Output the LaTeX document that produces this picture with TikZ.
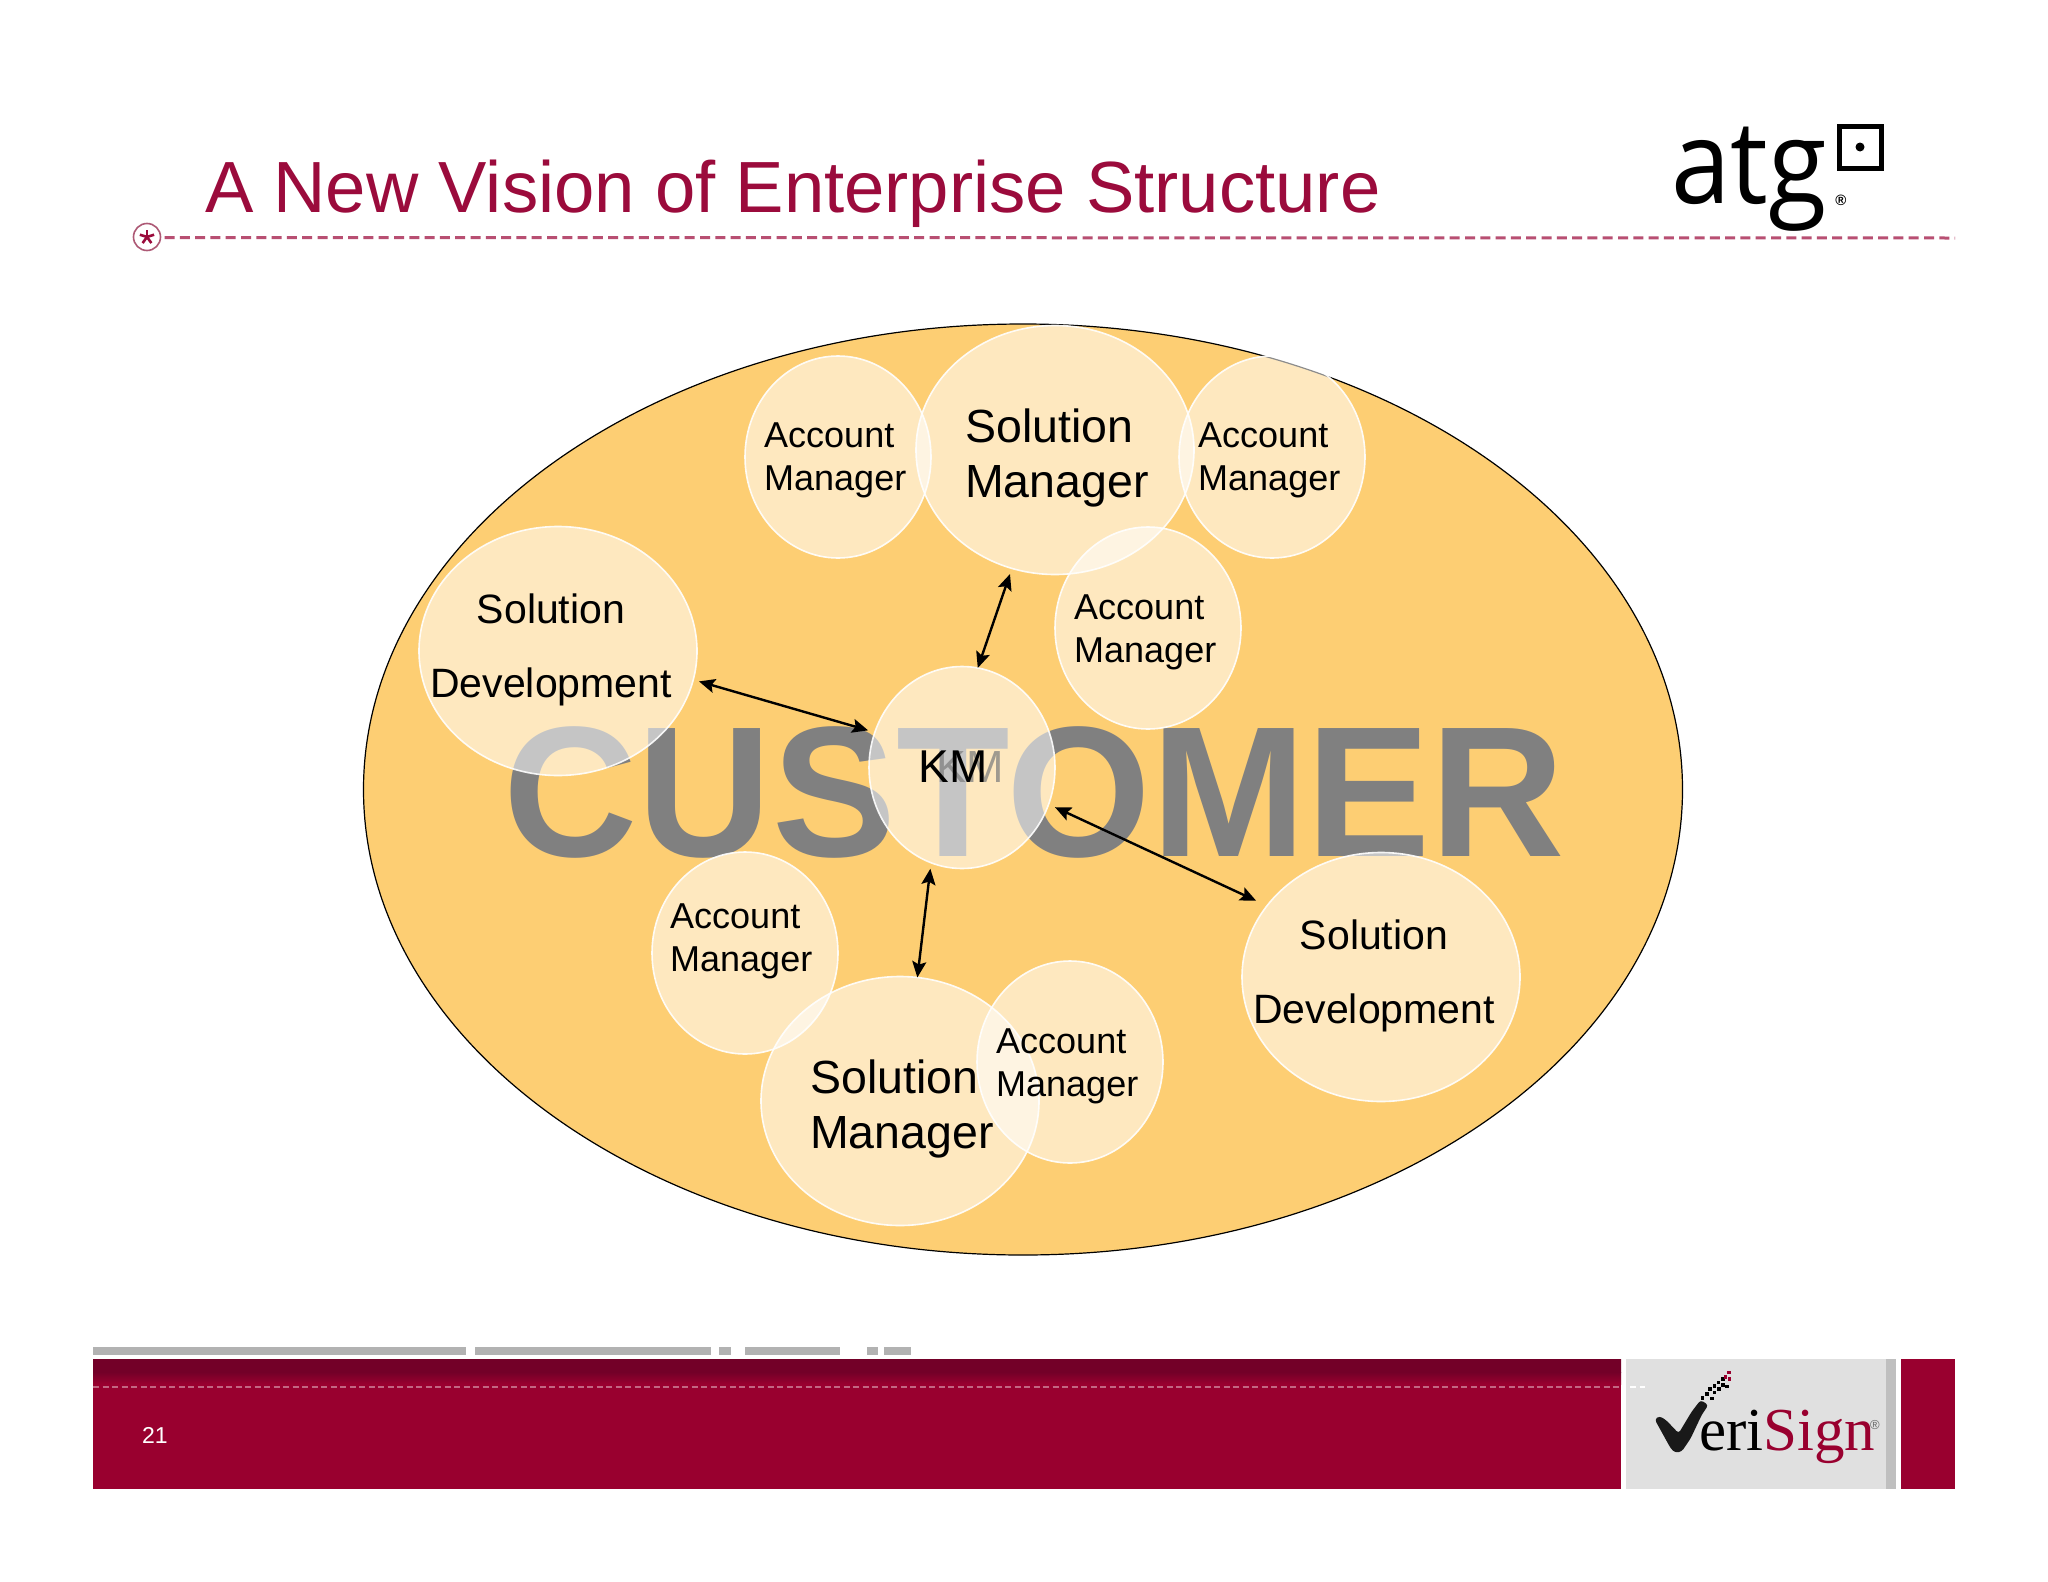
\documentclass[tikz,border=0pt]{standalone}
\usepackage{fontspec}
\setmainfont{Liberation Sans}
\newfontfamily\serifface{Liberation Serif}
\newfontfamily\logoface{Open Sans}
\usetikzlibrary{shapes.geometric,arrows.meta}
\definecolor{wine}{HTML}{99002F}
\definecolor{winedark}{HTML}{730028}
\definecolor{titlered}{HTML}{9B0B3C}
\definecolor{dashred}{HTML}{B84F72}
\definecolor{custfill}{HTML}{FDCE73}
\definecolor{custgray}{HTML}{808080}
\tikzset{
 bubble/.style={ellipse,inner sep=0pt,outer sep=0pt,fill=white,fill opacity=.55,draw=white,draw opacity=.9,line width=1.6pt},
 amb/.style={bubble,minimum width=186pt,minimum height=202pt},
 smb/.style={bubble,minimum width=278pt,minimum height=249pt},
 amlabel/.style={anchor=west,align=left,inner sep=0pt,font=\fontsize{36}{43}\selectfont},
 smlabel/.style={anchor=west,align=left,inner sep=0pt,font=\fontsize{46.5}{55}\selectfont},
 sdlabel/.style={anchor=center,align=center,inner sep=0pt,font=\fontsize{41}{74.5}\selectfont},
 link/.style={{Stealth[length=16pt,width=14pt,inset=3pt]}-{Stealth[length=16pt,width=14pt,inset=3pt]},line width=2.4pt,black},
 barpiece/.style={fill=black!30,draw=none},
}
\begin{document}
\begin{tikzpicture}[x=1pt,y=-1pt]
\useasboundingbox (0,0) rectangle (2048,1582);
\fill[white] (0,0) rectangle (2048,1582);

% header
\node[anchor=base west,inner sep=0pt,text=titlered,font=\fontsize{72.5}{80}\selectfont] (title) at (205,212) {A New Vision of Enterprise Structure};
\node[circle,draw=dashred!80!gray,line width=1.6pt,minimum size=27pt,inner sep=0pt,outer sep=0pt] (bullet) at (147,237) {};
\foreach \a in {90,162,234,306,18}{\draw[titlered,line width=2.6pt] (bullet.center) -- ++(\a:7.5pt);}
\coordinate (dashend) at (1955,238);
\draw[dashred,line width=3pt,dash pattern=on 10pt off 5.3pt] (bullet.east) ++(4,0.5) -- (dashend);

% atg logo
\node[anchor=base west,inner sep=0pt,xscale=.92,font=\logoface\fontsize{116}{120}\selectfont] (atg) at (1671,203) {atg};
\node[draw=black,line width=5pt,minimum size=42pt,inner sep=0pt,outer sep=0pt] (sq) at (1860,147) {};
\fill[black] (sq.center) circle[radius=4.5pt];
\node[inner sep=0pt,font=\bfseries\fontsize{15}{15}\selectfont] (reg) at (1841,200) {®};

% customer ellipse
\node[ellipse,draw=black,line width=1.2pt,fill=custfill,minimum width=1319pt,minimum height=931pt,inner sep=0pt,outer sep=0pt] (cust) at (1023,789.5) {};
\node[anchor=base,inner sep=0pt,text=custgray,font=\bfseries\fontsize{186}{190}\selectfont] (custword) at (1034,856) {CUSTOMER};

% bubbles
\node[amb] (am1) at (838,457) {};
\node[smb] (sm1) at (1055,450) {};
\node[amb] (am2) at (1272,457) {};
\node[amb] (am3) at (1148,628) {};
\node[smb] (sd1) at (558,651) {};
\node[amb] (km) at (962,767.5) {};
\node[smb] (sd2) at (1381,977) {};
\node[amb] (am4) at (745,953) {};
\node[smb] (sm2) at (900,1101) {};
\node[amb] (am5) at (1070,1062) {};

% labels
\node[amlabel] (t1) at (764,460) {Account\\Manager};
\node[smlabel] (t2) at (965,458) {Solution\\Manager};
\node[amlabel] (t3) at (1198,460) {Account\\Manager};
\node[amlabel] (t4) at (1074,632) {Account\\Manager};
\node[sdlabel] (t5) at (551,650) {Solution\\Development};
\node[inner sep=0pt,text=custgray,text opacity=.75,font=\fontsize{45}{46}\selectfont] (kmghost) at (970,767) {KM};
\node[inner sep=0pt,font=\fontsize{46}{48}\selectfont] (t6) at (953,767) {KM};
\node[sdlabel] (t7) at (1374,976) {Solution\\Development};
\node[amlabel] (t8) at (670,941) {Account\\Manager};
\node[smlabel] (t9) at (810,1109) {Solution\\Manager};
\node[amlabel] (t10) at (996,1066) {Account\\Manager};

% links
\draw[link,shorten <=6pt,shorten >=0pt] (sm1.250) -- (km.81);
\draw[link,shorten >=7pt,shorten <=6pt] (sd1.-12) -- (km.158);
\draw[link,shorten <=7pt,shorten >=12pt] (km.-23) -- (sd2.148);
\draw[link,shorten <=6pt,shorten >=0pt] (km.252) -- (sm2.82);

% footer
\fill[barpiece] (93,1347) rectangle (466,1355);
\fill[barpiece] (475,1347) rectangle (711,1355);
\fill[barpiece] (719,1347) rectangle (731,1355);
\fill[barpiece] (745,1347) rectangle (840,1355);
\fill[barpiece] (867,1347) rectangle (878,1355);
\fill[barpiece] (884,1347) rectangle (911,1355);
\fill[wine] (93,1359) rectangle (1621,1489);
\shade[top color=winedark,bottom color=winedark] (93,1359) rectangle (1621,1372);
\shade[top color=winedark,bottom color=wine] (93,1372) rectangle (1621,1384);
\fill[wine] (1901,1359) rectangle (1955,1489);
\fill[black!12] (1626,1359) rectangle (1886,1489);
\fill[black!25] (1886,1359) rectangle (1896,1489);
\coordinate (fdash1) at (93,1387);
\coordinate (fdash2) at (1621,1387);
\draw[white!40!wine,line width=2.6pt,dash pattern=on 6pt off 3.5pt] (fdash1) -- (fdash2);
\draw[white,line width=2.4pt,dash pattern=on 6pt off 3.5pt] (1630,1387) -- (1645,1387);
\node[anchor=base west,inner sep=0pt,text=white,font=\fontsize{23}{25}\selectfont] (pageno) at (142,1443) {21};

% VeriSign logo
\begin{scope}[shift={(1580,1340)},x=.3333pt,y=-.3333pt]
\fill[black!90,rounded corners=3pt] (224,238) -- (238,228) -- (258,240) -- (296,280) -- (335,215) -- (362,180) -- (385,195) -- (365,225) -- (332,295) -- (305,335) -- (285,338) -- (272,325) -- cycle;
\foreach \px/\py in {362/168,376/156,390/170,384/142,398/152,398/132,412/142,410/122,424/130,424/112,436/134}{\fill[black] (\px,\py) rectangle ++(11,11);}
\foreach \px/\py in {442/92,444/112,432/106}{\fill[wine] (\px,\py) rectangle ++(10,10);}
\end{scope}
\node[anchor=base west,inner sep=0pt,font=\serifface\fontsize{61}{62}\selectfont] (vs) at (1699,1450) {eri\textcolor{wine}{Sign}};
\node[inner sep=0pt,text=black!60,font=\fontsize{13}{13}\selectfont] (vsreg) at (1875,1425) {®};
\end{tikzpicture}
\end{document}
